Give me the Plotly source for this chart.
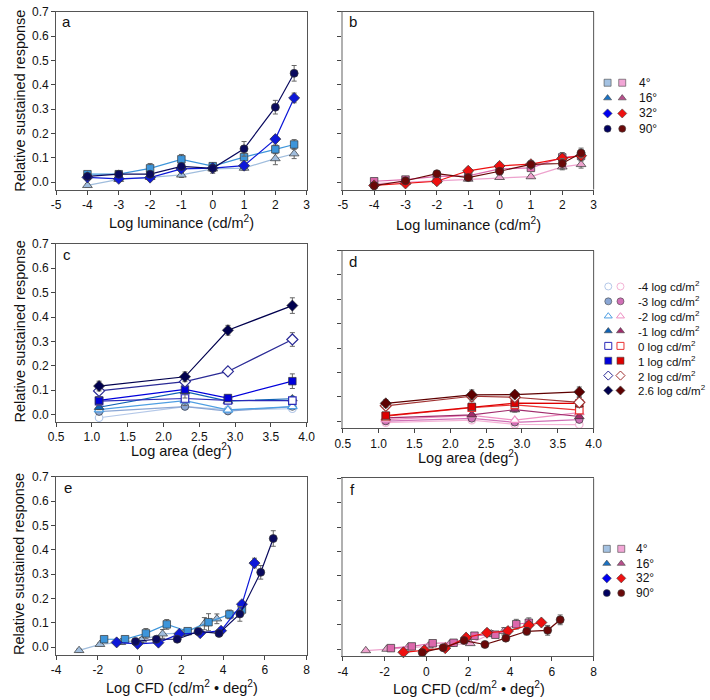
import plotly.graph_objects as go

# ---------------- data ----------------
LUM = [-4, -3, -2, -1, 0, 1, 2, 2.6]
LUM_LABELS = ["-4", "-3", "-2", "-1", "0", "1", "2", "2.6"]
ECC_LABELS = ["4°", "16°", "32°", "90°"]
# log area (deg^2) at which the square, triangle, diamond and circle series are plotted
SERIES_AREA = [2.3, 1.1, 2.9, 3.8]

LUM_TICKS = [-5, -4, -3, -2, -1, 0, 1, 2, 3]
AREA_TICKS = [0.5, 1.0, 1.5, 2.0, 2.5, 3.0, 3.5, 4.0]
CFD_TICKS = [-4, -2, 0, 2, 4, 6, 8]
RESP_TICKS = [0.0, 0.1, 0.2, 0.3, 0.4, 0.5, 0.6, 0.7]

BLUE_SQ = [0.033, 0.033, 0.057, 0.094, 0.066, 0.103, 0.135, 0.155]
BLUE_TRI = [-0.013, 0.012, 0.020, 0.030, 0.055, 0.058, 0.097, 0.117]
BLUE_DIA = [0.020, 0.014, 0.019, 0.055, 0.058, 0.068, 0.177, 0.346]
BLUE_CIR = [0.024, 0.033, 0.033, 0.065, 0.057, 0.137, 0.308, 0.447]
BLUE_SQ_ERR = [0.008, 0.006, 0.020, 0.020, 0.012, 0.035, 0.018, 0.020]
BLUE_TRI_ERR = [0.006, 0.006, 0.006, 0.010, 0.018, 0.008, 0.025, 0.020]
BLUE_DIA_ERR = [0.008, 0.006, 0.006, 0.010, 0.010, 0.012, 0.012, 0.020]
BLUE_CIR_ERR = [0.008, 0.008, 0.008, 0.010, 0.012, 0.030, 0.028, 0.032]

RED_SQ = [0.004, 0.011, 0.024, 0.026, 0.055, 0.059, 0.102, 0.108]
RED_TRI = [-0.006, 0.000, 0.006, 0.013, 0.020, 0.023, 0.063, 0.073]
RED_DIA = [-0.013, -0.005, 0.004, 0.047, 0.067, 0.074, 0.098, 0.109]
RED_CIR = [-0.014, 0.006, 0.035, 0.019, 0.045, 0.073, 0.077, 0.120]
RED_SQ_ERR = [0.005, 0.005, 0.006, 0.006, 0.008, 0.010, 0.020, 0.020]
RED_TRI_ERR = [0.004, 0.004, 0.004, 0.005, 0.005, 0.006, 0.012, 0.015]
RED_DIA_ERR = [0.005, 0.005, 0.006, 0.010, 0.012, 0.012, 0.015, 0.012]
RED_CIR_ERR = [0.005, 0.006, 0.006, 0.006, 0.010, 0.015, 0.020, 0.020]

BLUE = [BLUE_SQ, BLUE_TRI, BLUE_DIA, BLUE_CIR]
BLUE_ERR = [BLUE_SQ_ERR, BLUE_TRI_ERR, BLUE_DIA_ERR, BLUE_CIR_ERR]
RED = [RED_SQ, RED_TRI, RED_DIA, RED_CIR]
RED_ERR = [RED_SQ_ERR, RED_TRI_ERR, RED_DIA_ERR, RED_CIR_ERR]

# ---------------- styles ----------------
W, H = 710, 700
FONT = "Liberation Sans, Arial, sans-serif"
ECC_SYMBOLS = ["square", "triangle-up", "diamond", "circle"]
ECC_SIZES = [7.5, 8.5, 8.5, 8]
BLUE_COLORS = ["#3d95da", "#a0bddd", "#0d18d8", "#0a0a5e"]
RED_COLORS = ["#dc68ac", "#eda2cd", "#ee1010", "#6a0808"]
BLUE_LEG_COLORS = ["#a4c2e2", "#1a72c4", "#0000f0", "#000060"]
RED_LEG_COLORS = ["#f2a6d6", "#b8508c", "#ee1111", "#6a0a0a"]
DRAW_ORDER = [1, 0, 2, 3]

LUM_SYMBOLS = ["circle", "circle", "triangle-up", "triangle-up", "square", "square", "diamond", "diamond"]
LUM_OPEN = [True, False, True, False, True, False, True, False]
LUM_SIZES = [7.5, 7.5, 8.5, 8.5, 7.5, 7.5, 8.5, 8.5]
BLUE_LUM_COLORS = ["#b4c8e8", "#8aa6d4", "#4e9ee2", "#0f62b4", "#2a2ab8", "#0000dc", "#2a2a96", "#00004e"]
RED_LUM_COLORS = ["#f4b4d6", "#d070b6", "#ee8ec2", "#a02c6c", "#ea3434", "#de0000", "#a03232", "#5e0000"]

# panel boxes in pixels: (left, top, right, bottom)
BOXES = {
    "a": (49.3, 4.7, 306, 184.4),
    "b": (343, 4.7, 600, 184.4),
    "c": (49.3, 239.3, 306, 419.1),
    "d": (343, 246, 600, 425.7),
    "e": (49.3, 474.7, 306, 654.1),
    "f": (343, 476, 600, 656),
}

fig = go.Figure()


def px(xp):
    return xp / W


def py(yp):
    return 1 - yp / H


def add_series(x, y, err, color, symbol, size, xa, ya, open_=False):
    fig.add_trace(go.Scatter(
        x=x, y=y, mode="lines+markers", xaxis=xa, yaxis=ya,
        line=dict(color=color, width=1.2),
        marker=dict(symbol=symbol, size=size,
                    color="white" if open_ else color,
                    line=dict(color=color if open_ else "#333333", width=1.2 if open_ else 0.7)),
        error_y=dict(type="data", array=err, color="#666666", thickness=1, width=2.5),
        showlegend=False, cliponaxis=False, hoverinfo="x+y"))


# panels a, b: response vs luminance
for vals, errs, cols, xa, ya in [(BLUE, BLUE_ERR, BLUE_COLORS, "x", "y"),
                                 (RED, RED_ERR, RED_COLORS, "x2", "y2")]:
    for k in DRAW_ORDER:
        add_series(LUM, vals[k], errs[k], cols[k], ECC_SYMBOLS[k], ECC_SIZES[k], xa, ya)

# panels c, d: response vs area, one line per luminance
area_order = sorted(range(4), key=lambda k: SERIES_AREA[k])
for vals, errs, cols, xa, ya in [(BLUE, BLUE_ERR, BLUE_LUM_COLORS, "x3", "y3"),
                                 (RED, RED_ERR, RED_LUM_COLORS, "x4", "y4")]:
    for i in range(len(LUM)):
        add_series([SERIES_AREA[k] for k in area_order],
                   [vals[k][i] for k in area_order],
                   [errs[k][i] for k in area_order],
                   cols[i], LUM_SYMBOLS[i], LUM_SIZES[i], xa, ya, LUM_OPEN[i])

# panels e, f: response vs log CFD (= log luminance + log area)
for vals, errs, cols, xa, ya in [(BLUE, BLUE_ERR, BLUE_COLORS, "x5", "y5"),
                                 (RED, RED_ERR, RED_COLORS, "x6", "y6")]:
    for k in DRAW_ORDER:
        add_series([l + SERIES_AREA[k] for l in LUM], vals[k], errs[k], cols[k],
                   ECC_SYMBOLS[k], ECC_SIZES[k], xa, ya)


# ---------------- axes ----------------
def ticks(vals, fmt):
    return dict(tickmode="array", tickvals=vals, ticktext=[fmt.format(v) for v in vals])


XCFG = {
    "a": dict(range=[-5, 3], **ticks(LUM_TICKS, "{:d}")),
    "b": dict(range=[-5, 3], **ticks(LUM_TICKS, "{:d}")),
    "c": dict(range=[0.5, 4.0], **ticks(AREA_TICKS, "{:.1f}")),
    "d": dict(range=[0.5, 4.0], **ticks(AREA_TICKS, "{:.1f}")),
    "e": dict(range=[-4, 8], **ticks(CFD_TICKS, "{:d}")),
    "f": dict(range=[-4, 8], **ticks(CFD_TICKS, "{:d}")),
}
layout = {}
shapes = []
for n, key in enumerate("abcdef", start=1):
    l, t, r, b = BOXES[key]
    sfx = "" if n == 1 else str(n)
    right = key in "bdf"
    layout["xaxis" + sfx] = dict(
        domain=[px(l), px(r)], anchor="y" + sfx, showgrid=False, zeroline=False,
        showline=True, linecolor="#555555", linewidth=1, mirror=True,
        ticks="outside", ticklen=4, tickcolor="#444444",
        tickfont=dict(size=12, color="#111111", family=FONT), **XCFG[key])
    layout["yaxis" + sfx] = dict(
        domain=[py(b), py(t)], anchor="x" + sfx, range=[-0.03, 0.7],
        showgrid=False, zeroline=False, showline=True,
        linecolor="#b0b0b0" if right else "#555555", linewidth=2 if right else 1,
        mirror=False if right else True,
        ticks="outside", ticklen=4, tickcolor="#444444", showticklabels=not right,
        tickfont=dict(size=12, color="#111111", family=FONT), **ticks(RESP_TICKS, "{:.1f}"))
    if right:
        shapes.append(dict(type="line", xref="x%s domain" % sfx, yref="y%s domain" % sfx,
                           x0=1, x1=1, y0=0, y1=1, line=dict(color="#555555", width=1)))

# overlay axis in pixel units for legends
layout["xaxis7"] = dict(domain=[0, 1], range=[0, W], visible=False, anchor="y7")
layout["yaxis7"] = dict(domain=[0, 1], range=[H, 0], visible=False, anchor="x7")

annotations = []


def ann(text, x, y, size=14.5, angle=0, xanchor="center"):
    annotations.append(dict(text=text, x=px(x), y=py(y), xref="paper", yref="paper",
                            showarrow=False, textangle=angle, xanchor=xanchor, yanchor="middle",
                            borderpad=0,
                            font=dict(size=size, color="#111111", family=FONT)))


# panel letters
for key, (x, y) in {"a": (60, 15), "b": (353, 15), "c": (60, 250), "d": (353, 257),
                    "e": (61, 485), "f": (353, 487)}.items():
    ann(key, x, y, size=15)

# axis titles
for y in (95, 328, 563):
    ann("Relative sustained response", 12, y, angle=-90)
ann("Log luminance (cd/m<sup>2</sup>)", 178, 217)
ann("Log luminance (cd/m<sup>2</sup>)", 472, 219)
ann("Log area (deg<sup>2</sup>)", 178, 447)
ann("Log area (deg<sup>2</sup>)", 472, 455)
ann("Log CFD (cd/m<sup>2</sup> • deg<sup>2</sup>)", 178, 687)
ann("Log CFD (cd/m<sup>2</sup> • deg<sup>2</sup>)", 472, 688)


# legends
def legend_block(labels, symbols, opens, blue_cols, red_cols, x0, x1, xt, y0, step, size, fsize):
    for i, lab in enumerate(labels):
        yy = y0 + step * i
        fill = ["white", "white"] if opens[i] else [blue_cols[i], red_cols[i]]
        edge = [blue_cols[i], red_cols[i]] if opens[i] else ["#444444", "#444444"]
        fig.add_trace(go.Scatter(
            x=[x0, x1], y=[yy, yy], mode="markers", xaxis="x7", yaxis="y7",
            marker=dict(symbol=symbols[i], size=size, color=fill,
                        line=dict(color=edge, width=1 if opens[i] else 0.6)),
            showlegend=False, hoverinfo="skip", cliponaxis=False))
        ann(lab, xt, yy, size=fsize, xanchor="left")


legend_block(ECC_LABELS, ECC_SYMBOLS, [False] * 4, BLUE_LEG_COLORS, RED_LEG_COLORS,
             614.3, 629.3, 645, 76.5, 15.5, 7, 12)
legend_block([s + " log cd/m<sup>2</sup>" for s in LUM_LABELS], LUM_SYMBOLS, LUM_OPEN,
             BLUE_LUM_COLORS, RED_LUM_COLORS, 615, 627.5, 644, 282.3, 15, 7, 11.5)
legend_block(ECC_LABELS, ECC_SYMBOLS, [False] * 4, BLUE_LEG_COLORS, RED_LEG_COLORS,
             613.5, 628.3, 642, 547.3, 14.9, 7, 12)

fig.update_layout(
    width=W, height=H, margin=dict(l=0, r=0, t=0, b=0),
    paper_bgcolor="white", plot_bgcolor="rgba(0,0,0,0)",
    font=dict(family=FONT, color="#111111"),
    showlegend=False, annotations=annotations, shapes=shapes, **layout)

fig.write_html("out.html", config={"displayModeBar": False},
               post_script="document.body.style.margin='0';document.body.style.overflow='hidden';")
